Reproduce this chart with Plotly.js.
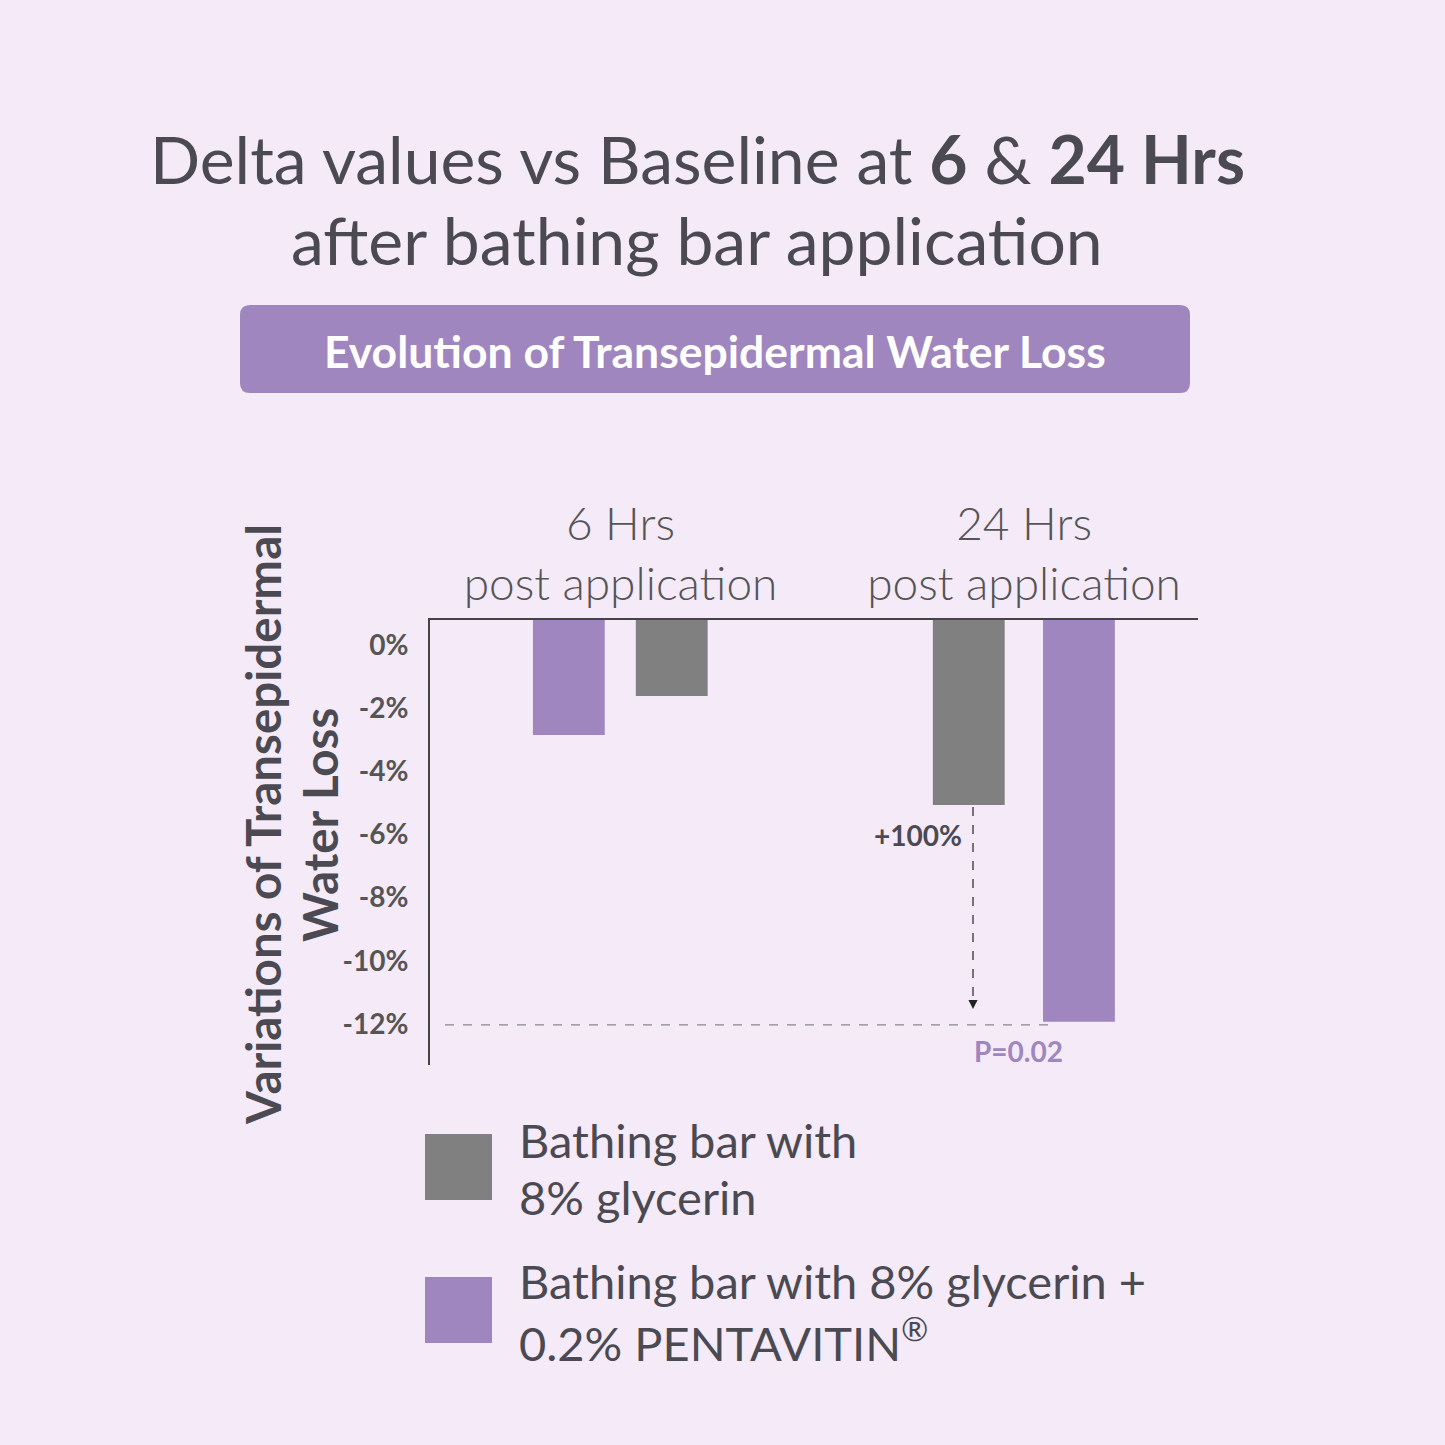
<!DOCTYPE html>
<html>
<head>
<meta charset="utf-8">
<script src="https://cdn.plot.ly/plotly-3.0.1.min.js"></script>
<style>html,body{margin:0;padding:0;background:#f5eaf8;}#chart{width:1445px;height:1445px;}</style>
</head>
<body>
<div id="chart"></div>
<script>
// ---- data ----
const categories = ["6 Hrs<br>post application", "24 Hrs<br>post application"];
const glycerinValues = [-2.25, -5.48];      // Bathing bar with 8% glycerin
const pentavitinValues = [-3.41, -11.91];   // + 0.2% PENTAVITIN
const yTickValues = [0, -2, -4, -6, -8, -10, -12];
const yTickLabels = ["0%", "-2%", "-4%", "-6%", "-8%", "-10%", "-12%"];
const seriesNames = ["Bathing bar with<br>8% glycerin", "Bathing bar with 8% glycerin +<br>0.2% PENTAVITIN<sup>®</sup>"];
const legendLines = [["Bathing bar with", "8% glycerin"], ["Bathing bar with 8% glycerin +", "0.2% PENTAVITIN<sup>®</sup>"]];
const titleLines = ["Delta values vs Baseline at <b>6</b> & <b>24 Hrs</b>", "after bathing bar application"];
const badgeText = "Evolution of Transepidermal Water Loss";
const yTitleLines = ["Variations of Transepidermal", "Water Loss"];
const deltaLabel = "+100%";
const pValueLabel = "P=0.02";
const referenceLevel = -12;

// ---- styling ----
const GRAY = "#808080", PURPLE = "#9f86bf", TEXT = "#4b4a52", BG = "#f5eaf8";
const W = 1445, H = 1445;
const L = 430, R = 1198, T = 620, B = 1065;
const px = x => (x - L) / (R - L);
const py = y => (B - y) / (B - T);

const traces = [
  {type: "bar", name: seriesNames[0], x: categories, y: glycerinValues,
   marker: {color: GRAY}, width: 0.178, offset: [0.038, -0.226], showlegend: false, hoverinfo: "skip"},
  {type: "bar", name: seriesNames[1], x: categories, y: pentavitinValues,
   marker: {color: PURPLE}, width: 0.178, offset: [-0.217, 0.047], showlegend: false, hoverinfo: "skip"},
  {type: "scatter", x: [categories[0]], y: [0], yaxis: "y2", mode: "markers",
   marker: {opacity: 0}, showlegend: false, hoverinfo: "skip"}
];

function roundRect(x0, y0, x1, y1, r) {
  const X = v => px(v), Y = v => py(v);
  return `M ${X(x0 + r)} ${Y(y0)} L ${X(x1 - r)} ${Y(y0)} Q ${X(x1)} ${Y(y0)} ${X(x1)} ${Y(y0 + r)} ` +
         `L ${X(x1)} ${Y(y1 - r)} Q ${X(x1)} ${Y(y1)} ${X(x1 - r)} ${Y(y1)} ` +
         `L ${X(x0 + r)} ${Y(y1)} Q ${X(x0)} ${Y(y1)} ${X(x0)} ${Y(y1 - r)} ` +
         `L ${X(x0)} ${Y(y0 + r)} Q ${X(x0)} ${Y(y0)} ${X(x0 + r)} ${Y(y0)} Z`;
}

const ann = (x, y, text, size, color, opts) => Object.assign({
  xref: "paper", yref: "paper", x: px(x), y: py(y), text: text, showarrow: false,
  font: {family: "Lato, 'Open Sans', sans-serif", size: size, color: color},
  xanchor: "center", yanchor: "middle"
}, opts || {});

const annotations = [
  ann(697, 159, titleLines[0], 66, TEXT),
  ann(697, 240, titleLines[1], 66, TEXT),
  ann(715, 350, "<b>" + badgeText + "</b>", 44.5, "#ffffff"),
  ann(262, 825, "<b>" + yTitleLines[0] + "</b>", 47.5, TEXT, {textangle: -90}),
  ann(319, 825, "<b>" + yTitleLines[1] + "</b>", 47.5, TEXT, {textangle: -90}),
  ann(918, 835, "<b>" + deltaLabel + "</b>", 28, TEXT),
  ann(1018, 1051, "<b>" + pValueLabel + "</b>", 28, PURPLE),
  // arrow head
  {xref: "paper", yref: "paper", x: px(973), y: py(1009), ax: 0, ay: -14, axref: "pixel", ayref: "pixel",
   text: " ", showarrow: true, arrowhead: 2, arrowsize: 1.3, arrowwidth: 1.4, arrowcolor: "#222"},
  ann(517, 1140, legendLines[0][0], 47, TEXT, {xanchor: "left"}),
  ann(517, 1197, legendLines[0][1], 47, TEXT, {xanchor: "left"}),
  ann(517, 1281, legendLines[1][0], 47, TEXT, {xanchor: "left"}),
  ann(517, 1340, legendLines[1][1], 47, TEXT, {xanchor: "left"})
];

const shapes = [
  {type: "path", xref: "paper", yref: "paper", path: roundRect(240, 305, 1190, 393, 10),
   fillcolor: PURPLE, line: {width: 0}, layer: "below"},
  {type: "line", xref: "paper", yref: "y", x0: px(445), x1: px(1055), y0: referenceLevel, y1: referenceLevel,
   line: {color: "#888", width: 1.3, dash: "dash"}},
  {type: "line", xref: "paper", yref: "paper", x0: px(973), x1: px(973), y0: py(807), y1: py(1003),
   line: {color: "#333", width: 1.3, dash: "dash"}},
  {type: "rect", xref: "paper", yref: "paper", x0: px(425), x1: px(492), y0: py(1134), y1: py(1200),
   fillcolor: GRAY, line: {width: 0}},
  {type: "rect", xref: "paper", yref: "paper", x0: px(425), x1: px(492), y0: py(1277), y1: py(1343),
   fillcolor: PURPLE, line: {width: 0}}
];

const layout = {
  width: W, height: H,
  paper_bgcolor: BG, plot_bgcolor: BG,
  margin: {l: L, r: W - R, t: T, b: H - B, pad: 0},
  showlegend: false,
  barmode: "overlay",
  font: {family: "Lato, 'Open Sans', sans-serif", color: TEXT},
  xaxis: {type: "category", side: "top", range: [-0.472, 1.431], showline: true, linecolor: "#444", linewidth: 2,
          showgrid: false, zeroline: false, ticks: "", fixedrange: true,
          tickfont: {family: "Lato, sans-serif", size: 46, color: "#555", weight: 300}},
  yaxis: {range: [-13.19, 0], showline: true, linecolor: "#444", linewidth: 2, showgrid: false,
          zeroline: false, showticklabels: false, ticks: "", fixedrange: true},
  yaxis2: {overlaying: "y", side: "left", range: [-13.3, 0.79], tickvals: yTickValues, ticktext: yTickLabels,
           showline: false, showgrid: false, zeroline: false, ticks: "outside", ticklen: 15,
           tickcolor: "rgba(0,0,0,0)", fixedrange: true,
           tickfont: {family: "Lato, sans-serif", size: 28, color: "#555", weight: 700}},
  annotations: annotations,
  shapes: shapes
};

Plotly.newPlot("chart", traces, layout, {displayModeBar: false, staticPlot: true});
</script>
</body>
</html>
